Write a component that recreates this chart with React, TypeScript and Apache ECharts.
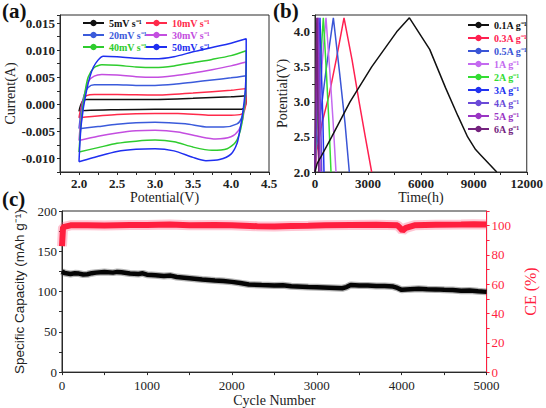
import React, { useEffect, useRef } from "react";
import * as echarts from "echarts";

// ---------- Panel (a): CV loops [potential V, current A] ----------
const cvNames = ["5mV s⁻¹", "10mV s⁻¹", "20mV s⁻¹", "30mV s⁻¹", "40mV s⁻¹", "50mV s⁻¹"];
const cvColors = ["#111111", "#ff2a4a", "#3b5bdb", "#c44ee0", "#2ecc2e", "#1f2ff0"];
const cv5 = [[2.0,-0.0013],[2.02,-0.0002],[2.05,0.0006],[2.1,0.0009],[2.5,0.0009],[3.0,0.0009],[3.5,0.0011],[4.0,0.0014],[4.2,0.0016],[4.2,0.0005],[4.18,-0.0005],[4.14,-0.0009],[3.7,-0.0009],[3.0,-0.0009],[2.5,-0.001],[2.0,-0.0012],[2.0,-0.0013]];
const cv10 = [[2.0,-0.0025],[2.02,-0.001],[2.05,0.0008],[2.1,0.0016],[2.2,0.0018],[2.5,0.0018],[3.0,0.0017],[3.5,0.0021],[4.0,0.0026],[4.2,0.0029],[4.2,0.001],[4.18,-0.001],[4.14,-0.0018],[4.0,-0.002],[3.7,-0.002],[3.3,-0.0017],[3.0,-0.0017],[2.5,-0.0019],[2.0,-0.0025]];
const cv20 = [[2.0,-0.0045],[2.03,-0.001],[2.07,0.0018],[2.12,0.0031],[2.2,0.0036],[2.5,0.0036],[2.75,0.0035],[3.0,0.0035],[3.25,0.0037],[3.5,0.0041],[3.75,0.0045],[4.0,0.0049],[4.2,0.0053],[4.2,0.003],[4.18,0.0],[4.14,-0.0025],[4.08,-0.0036],[3.9,-0.0042],[3.7,-0.0042],[3.4,-0.0036],[3.0,-0.0033],[2.75,-0.0034],[2.5,-0.0037],[2.25,-0.0041],[2.0,-0.0045]];
const cv30 = [[2.0,-0.0067],[2.03,-0.002],[2.07,0.0015],[2.12,0.0042],[2.2,0.0052],[2.3,0.0055],[2.5,0.0054],[2.75,0.0051],[3.0,0.005],[3.25,0.0053],[3.5,0.0058],[3.75,0.0064],[4.0,0.0071],[4.2,0.0078],[4.2,0.005],[4.18,0.0],[4.15,-0.003],[4.1,-0.0048],[4.0,-0.006],[3.8,-0.0064],[3.6,-0.006],[3.3,-0.0051],[3.0,-0.0048],[2.75,-0.0049],[2.5,-0.0053],[2.25,-0.0059],[2.0,-0.0067]];
const cv40 = [[2.0,-0.0088],[2.03,-0.003],[2.07,0.0015],[2.12,0.005],[2.2,0.0068],[2.3,0.0073],[2.5,0.0072],[2.75,0.0069],[3.0,0.0068],[3.25,0.0071],[3.5,0.0077],[3.75,0.0083],[4.0,0.009],[4.2,0.0099],[4.2,0.007],[4.19,0.002],[4.16,-0.002],[4.12,-0.005],[4.06,-0.007],[3.95,-0.0082],[3.75,-0.0085],[3.5,-0.0079],[3.25,-0.0069],[3.0,-0.0066],[2.75,-0.0068],[2.5,-0.0072],[2.25,-0.008],[2.0,-0.0088]];
const cv50 = [[2.0,-0.0106],[2.03,-0.0036],[2.1,0.0026],[2.19,0.0069],[2.32,0.0089],[2.5,0.0088],[2.75,0.0085],[3.0,0.0084],[3.25,0.0088],[3.5,0.0097],[3.75,0.0105],[4.0,0.0113],[4.2,0.0121],[4.2,0.009],[4.19,0.003],[4.16,-0.001],[4.12,-0.0045],[4.08,-0.0072],[4.0,-0.0092],[3.85,-0.0102],[3.67,-0.0104],[3.5,-0.0098],[3.25,-0.0086],[3.0,-0.0082],[2.75,-0.0083],[2.5,-0.0087],[2.25,-0.0096],[2.0,-0.0106]];
const cvData = [cv5, cv10, cv20, cv30, cv40, cv50];

// ---------- Panel (b): GCD curves [time h, potential V] ----------
const gcdNames = ["0.1A g⁻¹", "0.3A g⁻¹", "0.5A g⁻¹", "1A g⁻¹", "2A g⁻¹", "3A g⁻¹", "4A g⁻¹", "5A g⁻¹", "6A g⁻¹"];
const gcdColors = ["#111111", "#ff2050", "#3a55d6", "#c46af0", "#33dd33", "#2233f0", "#6a4ad8", "#9a35c4", "#74237e"];
const gcd01 = [[0,2.0],[120,2.12],[300,2.2],[945,2.5],[1984,3.0],[3212,3.5],[4630,4.0],[5350,4.2],[6500,3.75],[7400,3.2],[8100,2.8],[8650,2.5],[9100,2.32],[9400,2.24],[10300,2.0]];
const gcd03 = [[0,2.0],[100,2.3],[400,2.7],[800,3.1],[1200,3.6],[1644,4.2],[2100,3.6],[2500,3.0],[2850,2.5],[3212,2.0]];
const gcd05 = [[0,2.0],[60,2.3],[300,2.8],[650,3.5],[1040,4.2],[1400,3.4],[1700,2.7],[1945,2.0]];
const gcd1 = [[0,2.0],[40,2.3],[200,2.9],[420,3.6],[623,4.2],[850,3.4],[1030,2.7],[1190,2.0]];
const gcd2 = [[0,2.0],[30,2.3],[160,2.9],[320,3.6],[472,4.2],[650,3.4],[790,2.7],[907,2.0]];
const gcd3 = [[0,2.0],[20,2.3],[100,2.9],[190,3.6],[283,4.2],[380,3.3],[450,2.7],[510,2.0]];
const gcd4 = [[0,2.0],[15,2.3],[70,2.9],[135,3.6],[200,4.2],[270,3.3],[330,2.7],[380,2.0]];
const gcd5 = [[0,2.0],[10,2.3],[50,2.9],[100,3.6],[150,4.2],[205,3.3],[250,2.7],[290,2.0]];
const gcd6 = [[0,2.0],[8,2.3],[35,2.9],[70,3.6],[105,4.2],[145,3.3],[180,2.7],[215,2.0]];
const gcdData = [gcd01, gcd03, gcd05, gcd1, gcd2, gcd3, gcd4, gcd5, gcd6];

// ---------- Panel (c): cycling [cycle, capacity mAh/g] and [cycle, CE %] ----------
const capacity = [[0,125],[30,123],[100,121.8],[150,122.6],[200,122.3],[250,121.2],[300,121.5],[350,122.8],[400,123.5],[500,124.3],[600,123.5],[650,124.4],[700,123.9],[800,122.5],[900,121.8],[950,122.6],[1000,121],[1100,120.3],[1200,119.3],[1280,119.8],[1350,118],[1500,116.5],[1650,115],[1800,113.8],[1900,113.2],[2000,112],[2100,110.5],[2200,108.7],[2350,108],[2500,107.4],[2600,107.8],[2700,106.5],[2900,105.6],[3000,105.3],[3150,104.8],[3300,104.1],[3350,105.5],[3400,108.2],[3500,107.4],[3600,107.5],[3700,106.9],[3800,106.8],[3900,106.2],[3950,104.5],[4000,102.1],[4100,103],[4200,103.6],[4300,102.8],[4400,102.7],[4500,102.1],[4600,101.8],[4700,101],[4800,101.4],[4900,100.3],[5000,99.6]];
const ce = [[0,86],[12,99],[100,100.2],[300,100.3],[500,100.1],[800,100.4],[1000,100.5],[1270,100.8],[1500,100.2],[1800,100.4],[2000,100.3],[2300,99.6],[2500,99.4],[2700,99.8],[2900,100],[3100,100.3],[3400,100.5],[3700,100.6],[3950,100.2],[3990,98],[4010,96.5],[4050,98.5],[4150,100.2],[4400,100.6],[4700,100.8],[4850,101],[5000,100.8]];
const ceOutliers = [[1265,103.2],[2920,96.2],[3995,93.5],[4010,95],[4790,103.6],[4900,102.8],[2450,98.3],[3300,101.8],[150,98.2],[1500,98.6],[3600,98.8],[4620,98.5]];

const SERIF = '"Liberation Serif", "Times New Roman", serif';
const SANS = '"Liberation Sans", Arial, sans-serif';
const AX = "#2a2a2a";
const RED = "#ff1f3f";

const every = (step: number, dec: number, maxShow = Infinity) => (v: number) =>
  Math.abs(v / step - Math.round(v / step)) < 1e-6 && v <= maxShow + 1e-9 ? v.toFixed(dec) : "";

function axisBase(bold: boolean, color = AX) {
  return {
    type: "value" as const,
    axisLine: { show: true, onZero: false, lineStyle: { color, width: 1 } },
    axisTick: { show: true, inside: false, length: 3, lineStyle: { color } },
    splitLine: { show: false },
    axisLabel: { fontFamily: SERIF, fontSize: 13, fontWeight: bold ? "bold" : "normal", color: color === AX ? "#222" : color, margin: 5 },
    nameLocation: "middle" as const,
    nameTextStyle: { fontFamily: SERIF, fontSize: 14, color: color === AX ? "#222" : color },
  };
}

export default function App() {
  const ref = useRef<HTMLDivElement>(null);
  useEffect(() => {
    if (!ref.current) return;
    const chart = echarts.init(ref.current, undefined, { renderer: "svg" });
    const series: any[] = [];
    cvData.forEach((d, i) =>
      series.push({ name: cvNames[i], type: "line", xAxisIndex: 0, yAxisIndex: 0, data: d, symbol: "none", smooth: 0.25, color: cvColors[i], lineStyle: { width: 1.5, color: cvColors[i] } })
    );
    gcdData.forEach((d, i) =>
      series.push({ name: gcdNames[i], type: "line", xAxisIndex: 1, yAxisIndex: 1, data: d, symbol: "none", color: gcdColors[i], lineStyle: { width: 1.5, color: gcdColors[i] }, z: i === 0 ? 5 : 3 })
    );
    series.push({ name: "capHalo", type: "line", xAxisIndex: 2, yAxisIndex: 2, data: capacity, symbol: "none", lineStyle: { width: 7, color: "rgba(40,40,40,0.35)" } });
    series.push({ name: "capacity", type: "line", xAxisIndex: 2, yAxisIndex: 2, data: capacity, symbol: "none", lineStyle: { width: 4.5, color: "#050505" } });
    series.push({ name: "ceHalo", type: "line", xAxisIndex: 2, yAxisIndex: 3, data: ce, symbol: "none", lineStyle: { width: 10, color: "rgba(255,90,130,0.35)" } });
    series.push({ name: "ce", type: "line", xAxisIndex: 2, yAxisIndex: 3, data: ce, symbol: "none", lineStyle: { width: 6, color: RED } });
    series.push({ name: "ceOut", type: "scatter", xAxisIndex: 2, yAxisIndex: 3, data: ceOutliers, symbol: "emptyCircle", symbolSize: 5, itemStyle: { color: "#fff", borderColor: "rgba(255,80,130,0.8)", borderWidth: 1 } });

    const legText = { fontFamily: SERIF, fontSize: 10, fontWeight: "bold" as const };
    const legCommon = { orient: "vertical" as const, itemWidth: 21, itemHeight: 8, itemGap: 2, padding: 0, textStyle: legText, selectedMode: false };

    chart.setOption({
      animation: false,
      backgroundColor: "#ffffff",
      grid: [
        { left: 60, top: 15, width: 209, height: 157, show: true, borderColor: AX, borderWidth: 1, backgroundColor: "transparent" },
        { left: 315, top: 15, width: 212, height: 157, show: true, borderColor: AX, borderWidth: 1, backgroundColor: "transparent" },
        { left: 62, top: 211, width: 425, height: 162, show: true, borderColor: AX, borderWidth: 1, backgroundColor: "transparent" },
      ],
      xAxis: [
        { ...axisBase(true), gridIndex: 0, min: 1.75, max: 4.5, interval: 0.25, name: "Potential(V)", nameGap: 16, axisLabel: { ...axisBase(true).axisLabel, formatter: every(0.5, 1) } },
        { ...axisBase(true), gridIndex: 1, min: 0, max: 12000, interval: 1500, name: "Time(h)", nameGap: 16, axisLabel: { ...axisBase(true).axisLabel, formatter: every(3000, 0) } },
        { ...axisBase(false), gridIndex: 2, min: 0, max: 5000, interval: 500, name: "Cycle Number", nameGap: 19, axisLabel: { ...axisBase(false).axisLabel, margin: 7, formatter: every(1000, 0) } },
      ],
      yAxis: [
        { ...axisBase(true), gridIndex: 0, min: -0.0125, max: 0.0165, interval: 0.0025, name: "Current(A)", nameGap: 37, axisLabel: { ...axisBase(true).axisLabel, formatter: every(0.005, 3) } },
        { ...axisBase(true), gridIndex: 1, min: 2.0, max: 4.24, interval: 0.25, name: "Potential(V)", nameGap: 22, axisLabel: { ...axisBase(true).axisLabel, formatter: every(0.5, 1) } },
        { ...axisBase(false), gridIndex: 2, min: 0, max: 200, interval: 25, name: "Specific Capacity (mAh g⁻¹)", nameGap: 23, nameTextStyle: { fontFamily: SANS, fontSize: 13.5, color: "#222" }, axisLabel: { ...axisBase(false).axisLabel, formatter: every(50, 0) } },
        { ...axisBase(false, RED), gridIndex: 2, position: "right", min: 0, max: 110, interval: 10, name: "CE (%)", nameGap: 23, nameTextStyle: { fontFamily: SERIF, fontSize: 16, color: RED }, axisLabel: { ...axisBase(false, RED).axisLabel, formatter: every(20, 0, 100) } },
      ],
      legend: [
        { ...legCommon, left: 82, top: 18, data: [0, 2, 4].map((i) => ({ name: cvNames[i], textStyle: { color: cvColors[i] } })) },
        { ...legCommon, left: 145, top: 18, data: [1, 3, 5].map((i) => ({ name: cvNames[i], textStyle: { color: cvColors[i] } })) },
        { ...legCommon, left: 467, top: 20, itemGap: 3, data: gcdNames.map((n, i) => ({ name: n, textStyle: { color: gcdColors[i] } })) },
      ],
      graphic: [
        { type: "text", left: 2, top: 0, style: { text: "(a)", fontFamily: SERIF, fontSize: 21, fontWeight: "bold", fill: "#111" } },
        { type: "text", left: 273, top: 0, style: { text: "(b)", fontFamily: SERIF, fontSize: 21, fontWeight: "bold", fill: "#111" } },
        { type: "text", left: 2, top: 188, style: { text: "(c)", fontFamily: SERIF, fontSize: 21, fontWeight: "bold", fill: "#111" } },
      ],
      series,
    });
    return () => chart.dispose();
  }, []);
  return <div ref={ref} style={{ width: 546, height: 408, position: "absolute", left: 0, top: 0 }} />;
}
